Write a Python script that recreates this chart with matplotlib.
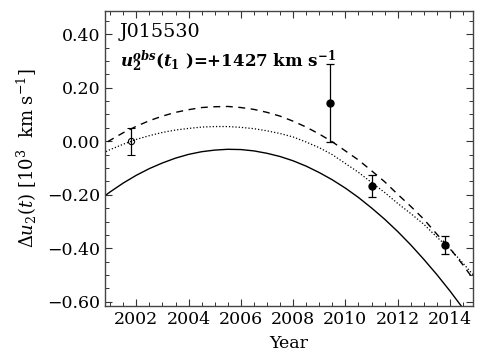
import numpy as np
import matplotlib.pyplot as plt
from matplotlib.ticker import MultipleLocator, FuncFormatter

plt.rcParams['font.family'] = 'DejaVu Serif'
plt.rcParams['mathtext.fontset'] = 'dejavuserif'

# model curves, sampled every half year
years = [2000.5, 2001.0, 2001.5, 2002.0, 2002.5, 2003.0, 2003.5, 2004.0, 2004.5, 2005.0,
         2005.5, 2006.0, 2006.5, 2007.0, 2007.5, 2008.0, 2008.5, 2009.0, 2009.5, 2010.0,
         2010.5, 2011.0, 2011.5, 2012.0, 2012.5, 2013.0, 2013.5, 2014.0, 2014.5, 2015.0]
solid = [-0.225, -0.189, -0.156, -0.127, -0.102, -0.081, -0.063, -0.049, -0.039, -0.033,
         -0.030, -0.031, -0.036, -0.045, -0.057, -0.073, -0.093, -0.117, -0.144, -0.175,
         -0.210, -0.249, -0.291, -0.337, -0.387, -0.441, -0.498, -0.559, -0.624, -0.693]
dashed = [-0.027, 0.004, 0.032, 0.056, 0.077, 0.094, 0.108, 0.118, 0.126, 0.129,
          0.130, 0.126, 0.119, 0.108, 0.094, 0.075, 0.053, 0.027, -0.002, -0.036,
          -0.070, -0.110, -0.151, -0.198, -0.243, -0.291, -0.347, -0.400, -0.462, -0.529]
dotted = [-0.055, -0.031, -0.011, 0.007, 0.021, 0.033, 0.042, 0.048, 0.053, 0.055,
          0.055, 0.052, 0.047, 0.039, 0.029, 0.016, -0.003, -0.024, -0.050, -0.083,
          -0.116, -0.154, -0.191, -0.232, -0.270, -0.310, -0.358, -0.402, -0.455, -0.512]

# observations
ref_t = [2001.8]
ref_v = [0.0]
ref_e = [0.05]
obs_t = [2009.43, 2011.0, 2013.8]
obs_v = [0.142, -0.167, -0.387]
obs_e = [0.145, 0.040, 0.033]

fig = plt.figure(figsize=(4.85, 3.64), dpi=100)
ax = fig.add_axes([0.2165, 0.159, 0.7585, 0.811])

ax.plot(years, solid, color='k', lw=1.0, ls='-')
ax.plot(years, dashed, color='k', lw=1.0, ls=(0, (5, 4)))
ax.plot(years, dotted, color='k', lw=0.9, ls=(0, (1, 1.6)))

ax.errorbar(ref_t, ref_v, yerr=ref_e, fmt='o', mfc='none', mec='k', ms=4.5, mew=0.8,
            ecolor='k', elinewidth=0.9, capsize=3, capthick=0.9)
ax.errorbar(obs_t, obs_v, yerr=obs_e, fmt='o', color='k', ms=5,
            ecolor='k', elinewidth=0.9, capsize=3, capthick=0.9)

ax.set_xlim(2000.8, 2014.88)
ax.set_ylim(-0.616, 0.487)
ax.xaxis.set_major_locator(MultipleLocator(2))
ax.xaxis.set_minor_locator(MultipleLocator(0.5))
ax.yaxis.set_major_locator(MultipleLocator(0.2))
ax.yaxis.set_minor_locator(MultipleLocator(0.05))
ax.yaxis.set_major_formatter(FuncFormatter(lambda v, p: ('%.2f' % v).replace('-', '\u2212')))
ax.tick_params(which='both', direction='in', top=True, right=True, labelsize=12.5, colors='#333333',
               labelcolor='k')
ax.tick_params(which='major', length=5, width=0.8)
ax.tick_params(which='minor', length=3, width=0.7)
for sp in ax.spines.values():
    sp.set_color('#444444')
    sp.set_linewidth(1.0)

ax.set_xlabel('Year', fontsize=12.5, labelpad=5)
ax.set_ylabel(r'$\Delta u_2(t)$ [10$^3$  km s$^{-1}$]', fontsize=13, labelpad=6)

ax.text(0.041, 0.96, 'J015530', transform=ax.transAxes, fontsize=13.8, va='top', ha='left')
ax.text(0.041, 0.875,
        r'$\mathbfit{u}_{\mathbf{2}}^{\mathbfit{obs}}$($\mathbfit{t}_{\mathbf{1}}$ )=+1427 km s$^{\mathbf{-1}}$',
        transform=ax.transAxes, fontsize=12, fontweight='bold', va='top', ha='left')

fig.savefig('out.png', dpi=100)
